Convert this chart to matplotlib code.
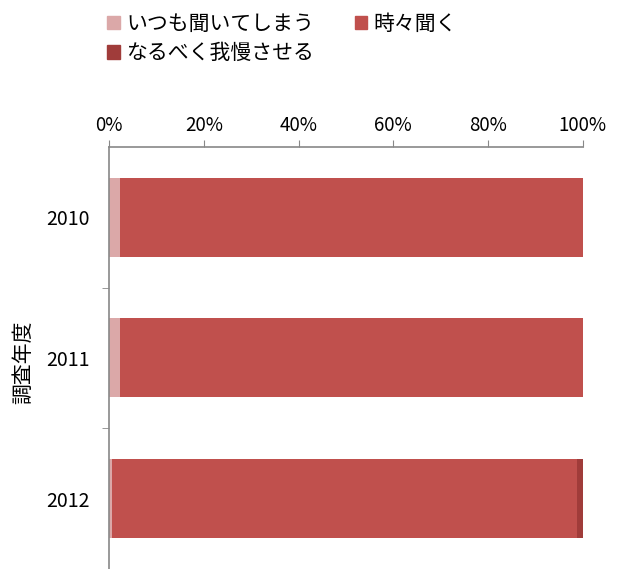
import numpy as np
import matplotlib.pyplot as plt
from matplotlib.patches import Patch

plt.rcParams['font.family'] = ['Noto Sans CJK JP', 'DejaVu Sans']

years = ['2010', '2011', '2012']
series_names = ['いつも聞いてしまう', '時々聞く', 'なるべく我慢させる']
always = [2.4, 2.4, 0.7]
sometimes = [97.6, 97.6, 98.1]
endure = [0.0, 0.0, 1.2]
colors = ['#dba8a8', '#c0504d', '#a03c3a']
xticks = [0, 20, 40, 60, 80, 100]

fig = plt.figure(figsize=(6.2, 5.69), dpi=100)
ax = fig.add_axes([0.176, 0.0, 0.764, 0.742])

y = np.arange(len(years))
left = np.zeros(len(years))
for vals, c in zip([always, sometimes, endure], colors):
    ax.barh(y, vals, left=left, height=0.56, color=c, edgecolor='none')
    left = left + np.array(vals)

ax.set_xlim(0, 100)
ax.set_ylim(2.5, -0.5)
ax.xaxis.tick_top()
ax.set_xticks(xticks)
ax.set_xticklabels([f'{t}%' for t in xticks], fontsize=13.5)
ax.set_yticks(y)
ax.set_yticklabels(years, fontsize=14)
ax.set_yticks([0.5, 1.5], minor=True)
ax.tick_params(axis='y', which='major', length=0, pad=14)
ax.tick_params(axis='y', which='minor', length=5, color='#888888')
ax.tick_params(axis='x', length=5, color='#888888', pad=3)
for s in ['right', 'bottom']:
    ax.spines[s].set_visible(False)
for s in ['top', 'left']:
    ax.spines[s].set_color('#888888')
    ax.spines[s].set_linewidth(1.2)
ax.set_ylabel('調査年度', fontsize=15, va='center')
ax.yaxis.set_label_coords(-0.182, 0.49)

handles = [Patch(color=c) for c in colors]
fig.legend([handles[0], handles[2], handles[1]],
           [series_names[0], series_names[2], series_names[1]],
           ncol=2, loc='upper left', bbox_to_anchor=(0.143, 1.01),
           frameon=False, fontsize=15, handlelength=0.6, handleheight=0.6,
           handletextpad=0.3, columnspacing=1.95, labelspacing=0.35)

fig.savefig('out.png')
